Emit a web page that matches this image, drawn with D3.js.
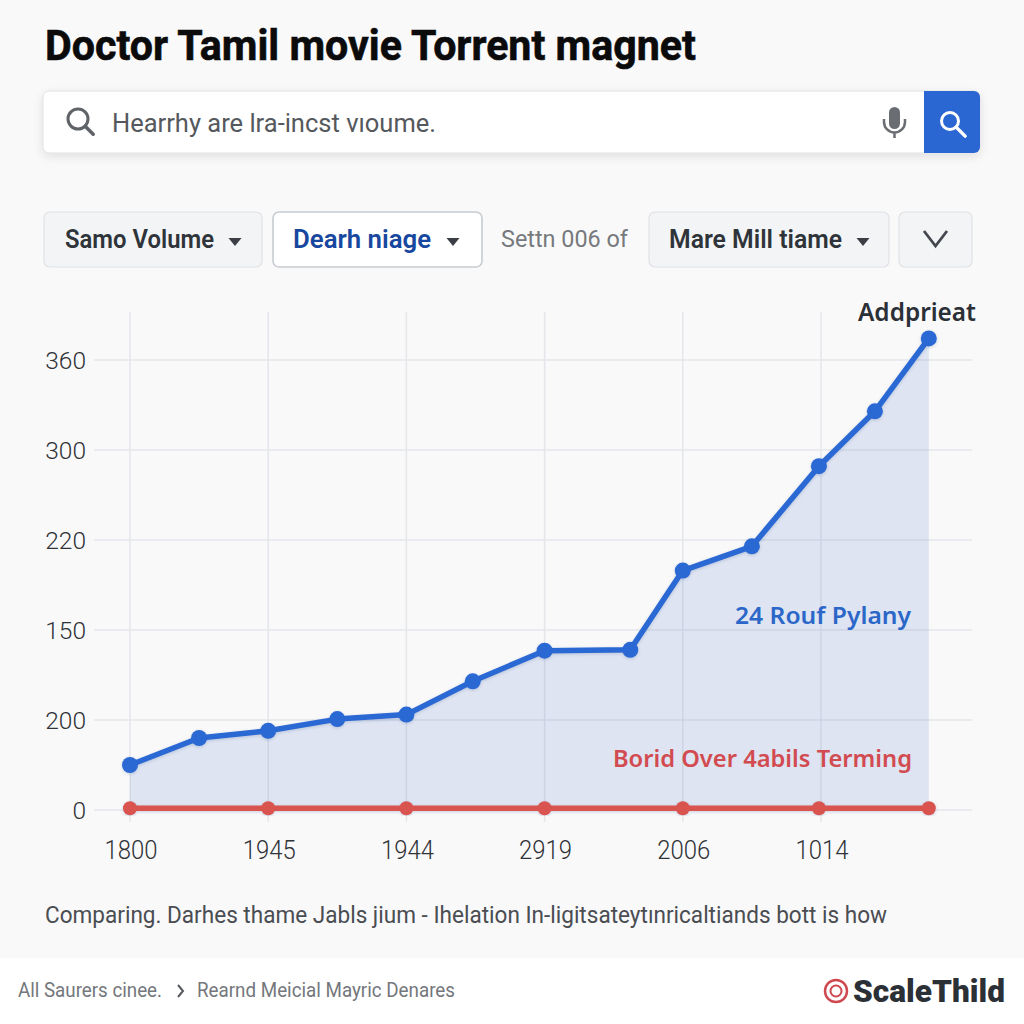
<!DOCTYPE html>
<html><head><meta charset="utf-8">
<script src="https://cdn.jsdelivr.net/npm/d3@7/dist/d3.min.js"></script>
<style>html,body{margin:0;padding:0;background:#f9f9fa}svg{display:block}text{font-family:Roboto,"Noto Sans",sans-serif}</style>
</head><body><div id="chart"></div>
<script>
// Axis labels are not monotonic in the reference, so values are stored in grid steps.
const yTickLabels = ["0","200","150","220","300","360"];
const xTickLabels = ["1800","1945","1944","2919","2006","1014"];
const blueX = [0,0.5,1,1.5,2,2.48,3,3.62,4,4.5,4.985,5.39,5.78];
const blueY = [0.5,0.8,0.88,1.01,1.06,1.43,1.77,1.78,2.66,2.93,3.82,4.43,5.24];
const redX = [0,1,2,3,4,4.985,5.78];
const redY = [0.02,0.02,0.02,0.02,0.02,0.02,0.02];

const svg = d3.select("#chart").append("svg").attr("width",1024).attr("height",1024);
const defs = svg.append("defs");
const f = defs.append("filter").attr("id","sh").attr("x","-5%").attr("y","-30%").attr("width","110%").attr("height","170%");
f.append("feDropShadow").attr("dx",0).attr("dy",3).attr("stdDeviation",5).attr("flood-color","#000").attr("flood-opacity",0.1);
const ms = defs.append("filter").attr("id","ms").attr("x","-5%").attr("y","-5%").attr("width","110%").attr("height","110%");
ms.append("feDropShadow").attr("dx",0).attr("dy",1).attr("stdDeviation",1.5).attr("flood-color","#1f3f80").attr("flood-opacity",0.22);

svg.append("rect").attr("width",1024).attr("height",1024).attr("fill","#f9f9fa");
svg.append("rect").attr("y",958).attr("width",1024).attr("height",66).attr("fill","#ffffff");

function txt(s,x,y,size,weight,color,len,fam){
  const t = svg.append("text").attr("x",x).attr("y",y).attr("font-size",size).attr("font-weight",weight).attr("fill",color).text(s);
  if(len) t.attr("textLength",len).attr("lengthAdjust","spacingAndGlyphs");
  if(fam) t.style("font-family",fam);
  return t;
}
txt("Doctor Tamil movie Torrent magnet",45,60,42,700,"#0b0b0c",651).attr("stroke","#0b0b0c").attr("stroke-width",0.6);

// search bar
svg.append("rect").attr("x",43).attr("y",91).attr("width",937).attr("height",62).attr("rx",6).attr("fill","#fff").attr("stroke","#dfe1e4").attr("filter","url(#sh)");
svg.append("path").attr("d","M924 91H974a6 6 0 0 1 6 6V147a6 6 0 0 1-6 6H924Z").attr("fill","#2b67d3");
function lens(cx,cy,r,sw,col,len){
  svg.append("circle").attr("cx",cx).attr("cy",cy).attr("r",r).attr("fill","none").attr("stroke",col).attr("stroke-width",sw);
  const d=r*0.72;
  svg.append("line").attr("x1",cx+d).attr("y1",cy+d).attr("x2",cx+d+len).attr("y2",cy+d+len).attr("stroke",col).attr("stroke-width",sw+0.5).attr("stroke-linecap","round");
}
lens(78,119,10,3,"#5f6368",8);
lens(950,121,8.5,3,"#ffffff",9);
txt("Hearrhy are lra-incst vıoume.",112,132,26,400,"#55585c",324);
// mic
svg.append("rect").attr("x",889).attr("y",107).attr("width",11).attr("height",22).attr("rx",5.5).attr("fill","#6a6e73");
svg.append("path").attr("d","M884 119v3a10.5 10.5 0 0 0 21 0v-3M894.5 133v5").attr("fill","none").attr("stroke","#6a6e73").attr("stroke-width",2.5);

// filters
const chips=[[44,218,"#f3f4f6","#e0e2e5"],[273,209,"#ffffff","#c8ccd0"],[649,240,"#f3f4f6","#e0e2e5"],[899,73,"#f3f4f6","#e0e2e5"]];
chips.forEach(c=>svg.append("rect").attr("x",c[0]).attr("y",212).attr("width",c[1]).attr("height",55).attr("rx",6).attr("fill",c[2]).attr("stroke",c[3]).attr("stroke-width",c[2]==="#ffffff"?1.6:1.2));
txt("Samo Volume",65,248,26,600,"#2f343a",149);
txt("Dearh niage",293,248,26,600,"#17479e",138);
txt("Settn 006 of",501,247,24,400,"#76797d",127);
txt("Mare Mill tiame",669,248,26,600,"#2f343a",173);
[[235,"#3b3f45"],[453,"#3b3f45"],[863,"#3b3f45"]].forEach(([x,c])=>svg.append("path").attr("d",`M${x-6.5} 238H${x+6.5}L${x} 246Z`).attr("fill",c));
svg.append("path").attr("d","M924 231L935.5 246L947 231").attr("fill","none").attr("stroke","#44484e").attr("stroke-width",2.8);

// chart
const x = d3.scaleLinear().domain([0,5]).range([130,821]);
const y = d3.scaleLinear().domain([0,5]).range([810,360]);
const yTicks = d3.range(yTickLabels.length), xTicks = d3.range(xTickLabels.length);
const gridCol="#e4e6ea";
svg.append("g").selectAll("line").data(yTicks).join("line")
  .attr("x1",94).attr("x2",972).attr("y1",d=>y(d)).attr("y2",d=>y(d)).attr("stroke",gridCol).attr("stroke-width",1.5);
svg.append("g").selectAll("line").data(xTicks).join("line")
  .attr("x1",d=>x(d)).attr("x2",d=>x(d)).attr("y1",312).attr("y2",822).attr("stroke",gridCol).attr("stroke-width",1.5);

const pts = blueX.map((v,i)=>[v,blueY[i]]);
svg.append("path").attr("d",d3.area().x(d=>x(d[0])).y0(y(0)).y1(d=>y(d[1]))(pts)).attr("fill","#2b5fb8").attr("fill-opacity",0.13);

const redPts = redX.map((v,i)=>[v,redY[i]]);
const ln = d3.line().x(d=>x(d[0])).y(d=>y(d[1]));
const rg = svg.append("g").attr("filter","url(#ms)");
rg.append("path").attr("d",ln(redPts)).attr("fill","none").attr("stroke","#d9534f").attr("stroke-width",5.5);
rg.selectAll("circle").data(redPts).join("circle").attr("cx",d=>x(d[0])).attr("cy",d=>y(d[1])).attr("r",7).attr("fill","#d9534f");
const bg = svg.append("g").attr("filter","url(#ms)");
bg.append("path").attr("d",ln(pts)).attr("fill","none").attr("stroke","#2b67d3").attr("stroke-width",5.5).attr("stroke-linejoin","round");
bg.selectAll("circle").data(pts).join("circle").attr("cx",d=>x(d[0])).attr("cy",d=>y(d[1])).attr("r",8).attr("fill","#2b67d3");

svg.append("g").selectAll("text").data(yTicks).join("text")
  .attr("x",86).attr("y",d=>y(d)+9).attr("text-anchor","end").attr("font-size",24.5).attr("font-weight",300).attr("fill","#2f3236").text(d=>yTickLabels[d]);
svg.append("g").selectAll("text").data(xTicks).join("text")
  .attr("x",d=>x(d)+1).attr("y",859).attr("text-anchor","middle").attr("font-size",25).attr("font-weight",300).attr("fill","#2f3236").attr("textLength",53).attr("lengthAdjust","spacingAndGlyphs").text(d=>xTickLabels[d]);

const ns='"Noto Sans",sans-serif';
txt("Addprieat",858,321,25,600,"#2b2f36",118,ns);
txt("24 Rouf Pylany",735,624,24,600,"#2b67c8",176,ns);
txt("Borid Over 4abils Terming",613,767,24,600,"#d24b50",299,ns);
txt("Comparing. Darhes thame Jabls jium - Ihelation In-ligitsateytınricaltiands bott is how",45,923,23,400,"#4a4d52",842);
txt("All Saurers cinee.",18,997,20,400,"#74777c",144);
svg.append("path").attr("d","M178 985L183 991L178 997").attr("fill","none").attr("stroke","#55585c").attr("stroke-width",2);
txt("Rearnd Meicial Mayric Denares",197,997,20,400,"#74777c",258);
svg.append("circle").attr("cx",836).attr("cy",991).attr("r",11).attr("fill","none").attr("stroke","#cf4a50").attr("stroke-width",2.5);
svg.append("circle").attr("cx",836).attr("cy",991).attr("r",5.5).attr("fill","none").attr("stroke","#cf4a50").attr("stroke-width",2);
txt("ScaleThild",853,1002,32,900,"#2b2f36",152);
</script></body></html>
